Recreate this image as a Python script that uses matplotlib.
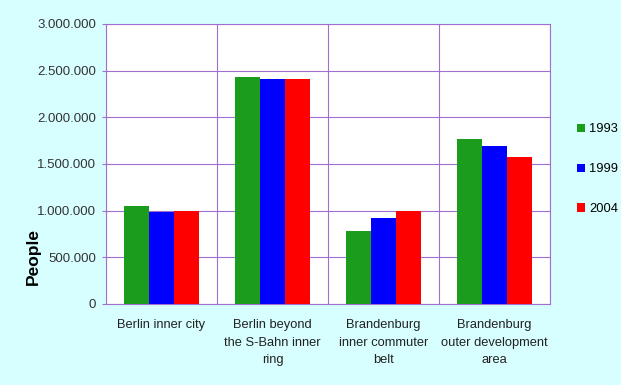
import matplotlib
matplotlib.use("Agg")
import matplotlib.pyplot as plt
import numpy as np
from matplotlib.ticker import FuncFormatter

categories = ["Berlin inner city", "Berlin beyond\nthe S-Bahn inner\nring",
              "Brandenburg\ninner commuter\nbelt", "Brandenburg\nouter development\narea"]
years = ["1993", "1999", "2004"]
v1993 = [1050000, 2430000, 780000, 1770000]
v1999 = [985000, 2410000, 925000, 1690000]
v2004 = [1000000, 2410000, 1000000, 1575000]
colors = ["#1c9c1c", "#0000ff", "#ff0000"]
yticks = [0, 500000, 1000000, 1500000, 2000000, 2500000, 3000000]

plt.rcParams['font.family'] = ['Liberation Sans', 'DejaVu Sans']
bg = "#d8ffff"
grid_c = "#a070d0"

fig = plt.figure(figsize=(6.21, 3.85), dpi=100, facecolor=bg)
ax = fig.add_axes([106/621, 1-304/385, 444/621, 280/385])
ax.set_facecolor("white")

x = np.arange(len(categories))
w = 0.225
series = [v1993, v1999, v2004]
for i, (vals, c, lab) in enumerate(zip(series, colors, years)):
    ax.bar(x + (i-1)*w, vals, width=w, color=c, label=lab, zorder=3, linewidth=0)

ax.set_xlim(-0.5, len(categories)-0.5)
ax.set_ylim(0, 3000000)
ax.set_yticks(yticks)
ax.yaxis.set_major_formatter(FuncFormatter(lambda v, p: f"{int(v):,}".replace(",", ".")))
ax.set_xticks(np.arange(len(categories)+1) - 0.5, minor=True)
ax.set_xticks(x)
ax.set_xticklabels(categories, fontsize=9.3, color="#222222", linespacing=1.6)
ax.tick_params(axis='x', which='both', length=0, pad=11)
ax.tick_params(axis='y', length=3, color=grid_c, labelsize=9.5, labelcolor="#333333", pad=4)
ax.grid(axis='y', color=grid_c, linewidth=0.8, zorder=0)
ax.grid(axis='x', which='minor', color=grid_c, linewidth=0.8, zorder=0)
for s in ax.spines.values():
    s.set_color(grid_c)
    s.set_linewidth(0.8)

ax.set_ylabel("People", fontsize=12.5, fontweight='bold', color="black")
ax.yaxis.set_label_coords(-0.146, 0.17)

leg = fig.legend(loc='upper left', bbox_to_anchor=(571/621, 1-117/385), frameon=False,
                 fontsize=9.3, handlelength=0.6, handleheight=0.6, handletextpad=0.3,
                 labelspacing=2.15, borderpad=0)

fig.savefig("out.png", dpi=100, facecolor=bg)
